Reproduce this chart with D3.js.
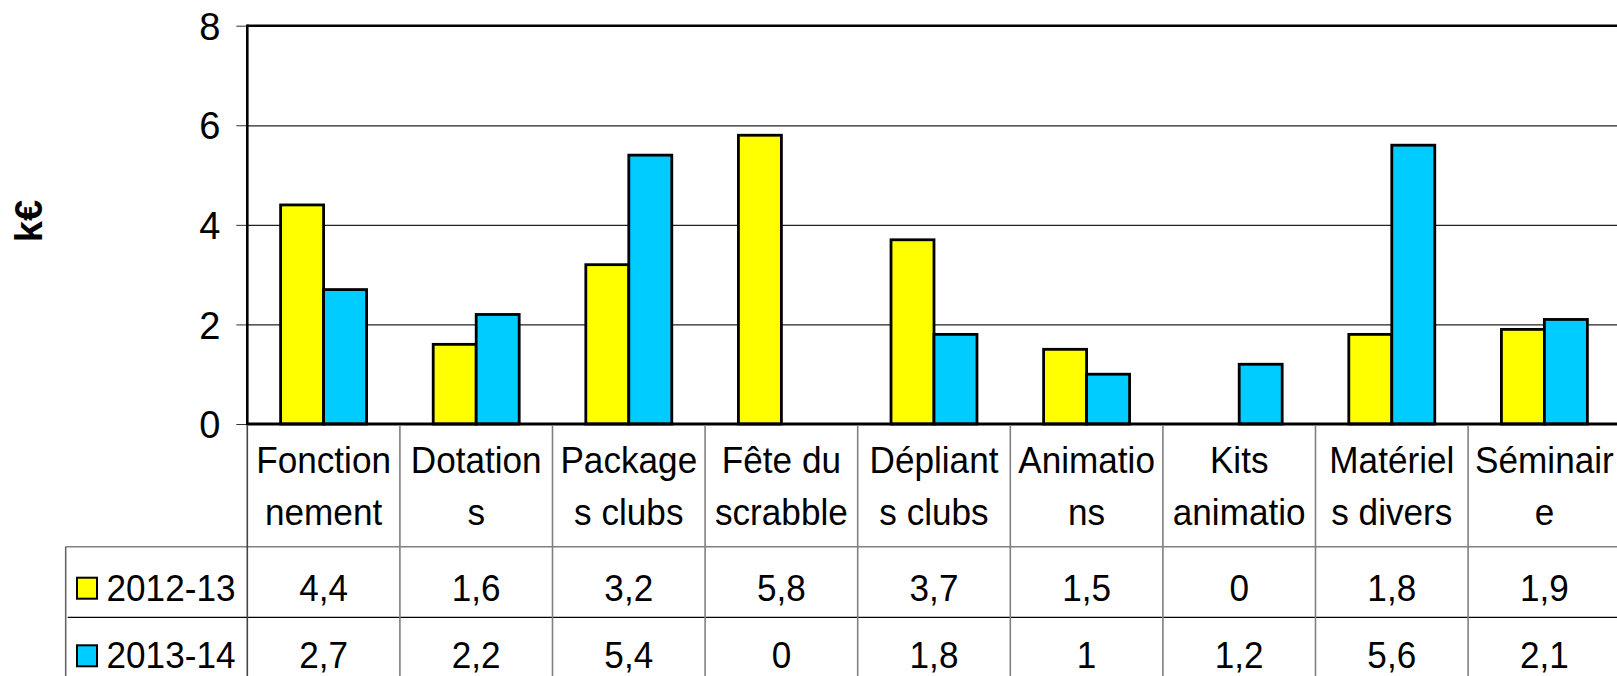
<!DOCTYPE html>
<html>
<head>
<meta charset="utf-8">
<script src="https://cdn.jsdelivr.net/npm/d3@7"></script>
<style>
  body { margin: 0; background: #fff; }
  text { font-family: "Liberation Sans", Arial, sans-serif; fill: #000; }
</style>
</head>
<body>
<div id="chart"></div>
<script>
// categories, split on two lines as in the data table
const categories = [
  ['Fonction', 'nement'],
  ['Dotation', 's'],
  ['Package', 's clubs'],
  ['Fête du', 'scrabble'],
  ['Dépliant', 's clubs'],
  ['Animatio', 'ns'],
  ['Kits', 'animatio'],
  ['Matériel', 's divers'],
  ['Séminair', 'e']
];
const seriesNames = ['2012-13', '2013-14'];
const values1213 = [4.4, 1.6, 3.2, 5.8, 3.7, 1.5, 0, 1.8, 1.9];
const values1314 = [2.7, 2.2, 5.4, 0, 1.8, 1, 1.2, 5.6, 2.1];
const seriesColors = ['#ffff00', '#00ccff'];
const yTicks = [0, 2, 4, 6, 8];
const yLabel = 'k€';

const W = 1617, H = 676;
const plot = { left: 247.3, top: 25.7, right: 1620.7, bottom: 424 };
const table = { left: 65.7, header: 546.7, row1: 617.3, bottom: H };
const squeeze = 0.95; // text in the source is slightly condensed

const svg = d3.select('#chart').append('svg')
  .attr('width', W)
  .attr('height', H);

const x0 = d3.scaleBand()
  .domain(d3.range(categories.length))
  .range([plot.left, plot.right])
  .padding(0);

const x1 = d3.scaleBand()
  .domain(seriesNames)
  .range([0, x0.bandwidth()])
  .paddingInner(0)
  .paddingOuter(0.775);

const y = d3.scaleLinear()
  .domain([0, 8])
  .range([plot.bottom, plot.top]);

// gridlines
const grid = svg.append('g')
  .attr('transform', `translate(${plot.left},0)`)
  .call(d3.axisLeft(y).tickValues(yTicks.filter(t => t > 0 && t < 8))
    .tickSize(-(plot.right - plot.left)).tickFormat(''));
grid.select('.domain').remove();
grid.selectAll('line').attr('stroke', '#222').attr('stroke-width', 1.2);

// bars
const series = [values1213, values1314];
const bars = [];
series.forEach((vals, s) => {
  vals.forEach((v, i) => bars.push({ i, s, v }));
});

svg.append('g').selectAll('rect')
  .data(bars)
  .enter()
  .append('rect')
  .attr('x', d => x0(d.i) + x1(seriesNames[d.s]))
  .attr('y', d => y(d.v))
  .attr('width', x1.bandwidth())
  .attr('height', d => y(0) - y(d.v))
  .attr('fill', d => seriesColors[d.s])
  .attr('stroke', '#000')
  .attr('stroke-width', 2.8);

// y axis
const yAxis = svg.append('g')
  .attr('transform', `translate(${plot.left},0)`)
  .call(d3.axisLeft(y).tickValues(yTicks).tickSize(11).tickPadding(16));
yAxis.select('.domain').remove();
yAxis.selectAll('line').attr('stroke', '#333').attr('stroke-width', 1);
yAxis.selectAll('text')
  .style('font-size', '38px')
  .style('font-family', '"Liberation Sans", Arial, sans-serif')
  .attr('dy', '0.36em');

// plot frame: top, left, zero line
svg.append('line')
  .attr('x1', plot.left).attr('x2', plot.right)
  .attr('y1', y(8)).attr('y2', y(8))
  .attr('stroke', '#000').attr('stroke-width', 2.6);
svg.append('line')
  .attr('x1', plot.left).attr('x2', plot.left)
  .attr('y1', y(8) - 1.3).attr('y2', y(0))
  .attr('stroke', '#000').attr('stroke-width', 2.6);
svg.append('line')
  .attr('x1', plot.left - 1.3).attr('x2', plot.right)
  .attr('y1', y(0)).attr('y2', y(0))
  .attr('stroke', '#000').attr('stroke-width', 3.2);

// y title
svg.append('text')
  .attr('transform', 'translate(41.5,221) rotate(-90)')
  .attr('text-anchor', 'middle')
  .style('font-size', '38px')
  .style('font-weight', 'bold')
  .text(yLabel);

// data table lines
const tbl = svg.append('g');
tbl.append('line')
  .attr('x1', table.left).attr('x2', W)
  .attr('y1', table.header).attr('y2', table.header)
  .attr('stroke', '#808080').attr('stroke-width', 1.6);
tbl.append('line')
  .attr('x1', table.left + 2).attr('x2', W)
  .attr('y1', table.row1).attr('y2', table.row1)
  .attr('stroke', '#000').attr('stroke-width', 1.2);
tbl.append('line')
  .attr('x1', table.left).attr('x2', table.left)
  .attr('y1', table.header).attr('y2', table.bottom)
  .attr('stroke', '#666').attr('stroke-width', 1.6);
tbl.selectAll('.col')
  .data(d3.range(categories.length + 1))
  .enter()
  .append('line')
  .attr('x1', i => i === 0 ? plot.left : x0(i) ?? plot.right)
  .attr('x2', i => i === 0 ? plot.left : x0(i) ?? plot.right)
  .attr('y1', y(0) + 1.5)
  .attr('y2', table.bottom)
  .attr('stroke', i => i === 0 ? '#444' : '#808080')
  .attr('stroke-width', 1.6);

// table text
function cellText(g, str, cx, by, anchor) {
  g.append('text')
    .attr('transform', `translate(${cx},${by}) scale(${squeeze},1)`)
    .attr('text-anchor', anchor || 'middle')
    .style('font-size', '37px')
    .text(str);
}

const headerBase = [473.3, 525];
const rowBase = [600.7, 668.3];
const fmt = v => String(v).replace('.', ',');

categories.forEach((lines, i) => {
  const cx = x0(i) + x0.bandwidth() / 2;
  lines.forEach((ln, k) => cellText(tbl, ln, cx, headerBase[k]));
  series.forEach((vals, s) => cellText(tbl, fmt(vals[i]), cx, rowBase[s]));
});

// legend keys in the table
seriesNames.forEach((name, s) => {
  tbl.append('rect')
    .attr('x', 77)
    .attr('y', rowBase[s] - 23)
    .attr('width', 20)
    .attr('height', 21)
    .attr('fill', seriesColors[s])
    .attr('stroke', '#000')
    .attr('stroke-width', 2);
  cellText(tbl, name, 106.5, rowBase[s], 'start');
});
</script>
</body>
</html>
